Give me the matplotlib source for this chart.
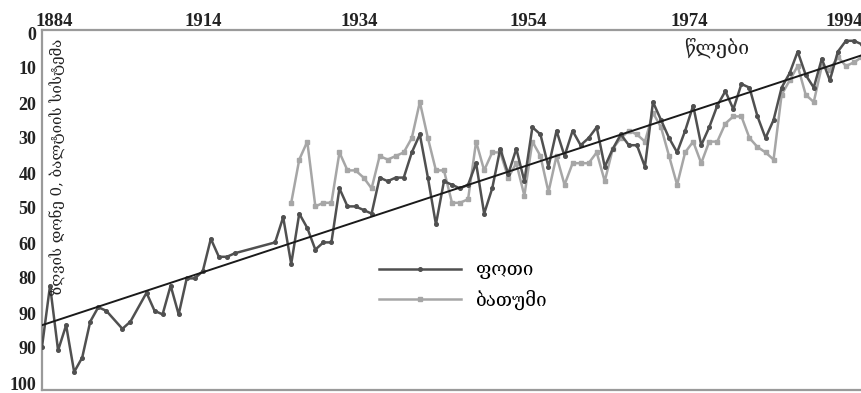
import matplotlib
matplotlib.use("Agg")
import matplotlib.pyplot as plt
import matplotlib.transforms as mtransforms
import numpy as np

# ---- data ----
poti_years = [1884, 1885, 1886, 1887, 1888, 1889, 1890, 1891, 1892, 1894, 1895,
              1897, 1898, 1899, 1900, 1901, 1902, 1903, 1904, 1905, 1906, 1907, 1908,
              1913, 1914, 1915, 1916, 1917, 1918, 1919, 1920, 1921, 1922, 1923, 1924,
              1925, 1926, 1927, 1928, 1929, 1930, 1931, 1932, 1933, 1934, 1935, 1936,
              1937, 1938, 1939, 1940, 1941, 1942, 1943, 1944, 1945, 1946, 1947, 1948,
              1949, 1950, 1951, 1952, 1953, 1954, 1955, 1956, 1957, 1958, 1959, 1960,
              1961, 1962, 1963, 1964, 1965, 1966, 1967, 1968, 1969, 1970, 1971, 1972,
              1973, 1974, 1975, 1976, 1977, 1978, 1979, 1980, 1981, 1982, 1983, 1984,
              1985, 1986]
poti_values = [88, 71, 89, 82, 95, 91, 81, 77, 78, 83, 81,
               73, 78, 79, 71, 79, 69, 69, 67, 58, 63, 63, 62,
               59, 52, 65, 51, 55, 61, 59, 59, 44, 49, 49, 50,
               51, 41, 42, 41, 41, 34, 29, 41, 54, 42, 43, 44,
               43, 37, 51, 44, 33, 40, 33, 42, 27, 29, 38, 28,
               35, 28, 32, 30, 27, 38, 33, 29, 32, 32, 38, 20,
               25, 30, 34, 28, 21, 32, 27, 21, 17, 22, 15, 16,
               24, 30, 25, 16, 12, 6, 12.5, 16, 8, 14, 6, 3,
               3, 4]

batumi_years = list(range(1915, 1987))
batumi_values = [48, 36, 31, 49, 48, 48, 34, 39, 39, 41, 44, 35,
                 36, 35, 34, 30, 20, 30, 39, 39, 48, 48, 47, 31,
                 39, 34, 34, 41, 37, 46, 31, 35, 45, 35, 43, 37,
                 37, 37, 34, 42, 33, 30, 28, 29, 31, 23, 27, 35,
                 43, 34, 31, 37, 31, 31, 26, 24, 24, 30, 32.5, 34,
                 36, 18, 14, 10, 18, 20, 10, 11, 7.5, 10, 9, 7.5]

trend_years = [1884, 1986]
trend_values = [82, 7]

x_tick_labels = ["1884", "1914", "1934", "1954", "1974", "1994"]
y_tick_labels = ["0", "10", "20", "30", "40", "50", "60", "80", "90", "90", "100"]

series_names = ["ფოთი", "ბათუმი"]
y_title = "ზღვის დონე 0, ბალტიის სისტემა"
x_title = "წლები"

# ---- layout / style ----
x_tick_pos = [1885.5, 1904.0, 1923.5, 1944.5, 1964.5, 1983.8]

fig = plt.figure(figsize=(8.62, 3.93), dpi=100)
ax = fig.add_axes([42 / 862, 1 - 390 / 393, 820 / 862, 360 / 393])

ax.plot(poti_years, poti_values, color="#505050", lw=1.8, marker="o",
        ms=2.6, label=series_names[0], zorder=3)
ax.plot(batumi_years, batumi_values, color="#a6a6a6", lw=1.8, marker="s",
        ms=2.8, label=series_names[1], zorder=2)
ax.plot(trend_years, trend_values, color="#1a1a1a", lw=1.4, zorder=4)

ax.set_xlim(1884, 1986)
ax.set_ylim(100, 0)

ax.xaxis.tick_top()
ax.set_xticks(x_tick_pos)
ax.set_xticklabels(x_tick_labels)
ax.set_yticks(np.arange(0, 101, 10))
ax.set_yticklabels(y_tick_labels)
ax.tick_params(axis="x", length=0, pad=0)
ax.tick_params(axis="y", length=0, pad=4)
for lab in ax.get_xticklabels():
    lab.set_fontfamily("Liberation Serif")
    lab.set_fontweight("bold")
    lab.set_fontsize(13.5)
    lab.set_color("#222222")
for lab in ax.get_yticklabels():
    lab.set_fontfamily("Liberation Serif")
    lab.set_fontweight("bold")
    lab.set_fontsize(13)
    lab.set_color("#222222")

# slight vertical compression of the y labels, as in the reference
n = len(ax.get_yticklabels())
for i, lab in enumerate(ax.get_yticklabels()):
    dy = (-3 + 10 * i / (n - 1)) / 100.0
    lab.set_transform(lab.get_transform() +
                      mtransforms.ScaledTranslation(0, dy, fig.dpi_scale_trans))

for s in ["top", "left", "bottom"]:
    ax.spines[s].set_color("#9a9a9a")
    ax.spines[s].set_linewidth(1.6)
ax.spines["right"].set_visible(False)

geo_font = ["DejaVu Serif", "DejaVu Sans"]
ax.text(0.02, 0.62, y_title, transform=ax.transAxes, rotation=90,
        ha="center", va="center", fontsize=10.8, family=geo_font, color="#222222")
ax.text(0.823, 0.95, x_title, transform=ax.transAxes, ha="center",
        va="center", fontsize=14, family=geo_font, color="#222222")

leg = ax.legend(loc="upper left", bbox_to_anchor=(0.39, 0.405), frameon=False,
                handlelength=4.4, labelspacing=0.55,
                prop={"family": geo_font, "size": 13.5})

fig.savefig("out.png", dpi=100, facecolor="white")
